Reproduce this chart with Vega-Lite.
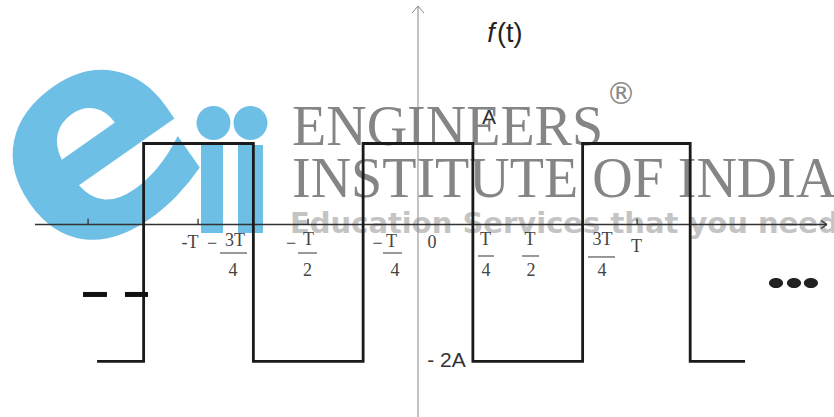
{
  "$schema": "https://vega.github.io/schema/vega-lite/v6.json",
  "width": 834,
  "height": 417,
  "autosize": {"type": "none"},
  "padding": 0,
  "background": "white",
  "config": {"view": {"stroke": null}},
  "datasets": {
    "logoE": [{"t": -1.476, "y": 0.944, "s": "e"}],
    "logoBars": [
      {"t": -0.9886, "t2": -0.8884, "y": 0.981, "y2": -0.105},
      {"t": -0.82, "t2": -0.7062, "y": 0.981, "y2": -0.105}
    ],
    "logoDots": [
      {"t": -0.9317, "y": 1.253},
      {"t": -0.7631, "y": 1.253}
    ],
    "brand": [
      {"t": -0.574, "y": 0.981, "s": "ENGINEERS"},
      {"t": -0.574, "y": 0.34, "s": "INSTITUTE OF INDIA"}
    ],
    "reg": [{"t": 0.9248, "y": 1.599, "s": "®"}],
    "tagline": [{"t": -0.583, "y": -0.105, "s": "Education Services that you need"}],
    "xaxis": [
      {"t": -1.745, "t2": 1.863, "y": 0, "y2": 0},
      {"t": 1.836, "t2": 1.863, "y": 0.05, "y2": 0},
      {"t": 1.836, "t2": 1.863, "y": -0.05, "y2": 0},
      {"t": -1.503, "t2": -1.503, "y": 0, "y2": 0.07},
      {"t": -1.002, "t2": -1.002, "y": 0, "y2": 0.07},
      {"t": -0.501, "t2": -0.501, "y": 0, "y2": 0.07},
      {"t": 0.998, "t2": 0.998, "y": 0, "y2": 0.07}
    ],
    "yaxis": [
      {"t": 0, "t2": 0, "y": -2.377, "y2": 2.698},
      {"t": -0.027, "t2": 0, "y": 2.611, "y2": 2.698},
      {"t": 0.027, "t2": 0, "y": 2.611, "y2": 2.698}
    ],
    "fracBars": [
      {"t": -0.902, "t2": -0.779, "y": -0.352},
      {"t": -0.5467, "t2": -0.4601, "y": -0.352},
      {"t": -0.1595, "t2": -0.0729, "y": -0.352},
      {"t": 0.2733, "t2": 0.3462, "y": -0.389},
      {"t": 0.4738, "t2": 0.5513, "y": -0.389},
      {"t": 0.7745, "t2": 0.8975, "y": -0.401}
    ],
    "tickLabels": [
      {"t": -1.039, "y": -0.228, "s": "-T"},
      {"t": -0.938, "y": -0.241, "s": "−"},
      {"t": -0.834, "y": -0.204, "s": "3T"},
      {"t": -0.843, "y": -0.574, "s": "4"},
      {"t": -0.5786, "y": -0.241, "s": "−"},
      {"t": -0.4989, "y": -0.191, "s": "T"},
      {"t": -0.5034, "y": -0.574, "s": "2"},
      {"t": -0.1845, "y": -0.241, "s": "−"},
      {"t": -0.1207, "y": -0.21, "s": "T"},
      {"t": -0.1048, "y": -0.574, "s": "4"},
      {"t": 0.0638, "y": -0.228, "s": "0"},
      {"t": 0.3075, "y": -0.191, "s": "T"},
      {"t": 0.3098, "y": -0.58, "s": "4"},
      {"t": 0.5103, "y": -0.191, "s": "T"},
      {"t": 0.5148, "y": -0.58, "s": "2"},
      {"t": 0.8405, "y": -0.191, "s": "3T"},
      {"t": 0.8383, "y": -0.58, "s": "4"},
      {"t": 0.9954, "y": -0.272, "s": "T"}
    ],
    "wave": [
      {"i": 0, "t": -1.462, "y": -1.69},
      {"i": 1, "t": -1.25, "y": -1.69},
      {"i": 2, "t": -1.25, "y": 1},
      {"i": 3, "t": -0.75, "y": 1},
      {"i": 4, "t": -0.75, "y": -1.69},
      {"i": 5, "t": -0.25, "y": -1.69},
      {"i": 6, "t": -0.25, "y": 1},
      {"i": 7, "t": 0.25, "y": 1},
      {"i": 8, "t": 0.25, "y": -1.69},
      {"i": 9, "t": 0.75, "y": -1.69},
      {"i": 10, "t": 0.75, "y": 1},
      {"i": 11, "t": 1.24, "y": 1},
      {"i": 12, "t": 1.24, "y": -1.69},
      {"i": 13, "t": 1.49, "y": -1.69}
    ],
    "fLabel": [{"t": 0.3326, "y": 2.358, "s": "f"}],
    "parenLabel": [{"t": 0.3599, "y": 2.358, "s": "(t)"}],
    "levelLabels": [
      {"t": 0.3235, "y": 1.315, "s": "A"},
      {"t": 0.1298, "y": -1.685, "s": "- 2A"}
    ],
    "dashes": [
      {"t": -1.526, "t2": -1.417, "y": -0.864},
      {"t": -1.335, "t2": -1.23, "y": -0.864}
    ],
    "ellipsis": [
      {"t": 1.631, "y": -0.722},
      {"t": 1.713, "y": -0.722},
      {"t": 1.79, "y": -0.722}
    ]
  },
  "encoding": {
    "x": {"field": "t", "type": "quantitative", "scale": {"domain": [-1.9043, 1.8952], "nice": false, "zero": false}, "axis": null},
    "y": {"field": "y", "type": "quantitative", "scale": {"domain": [-2.377, 2.772], "nice": false, "zero": false}, "axis": null}
  },
  "layer": [
    {
      "data": {"name": "logoE"},
      "mark": {"type": "text", "font": "DejaVu Sans", "fontWeight": "bold", "fontSize": 285, "angle": -35, "align": "center", "baseline": "middle", "color": "#6EBFE5"},
      "encoding": {"text": {"field": "s"}}
    },
    {
      "data": {"name": "logoBars"},
      "mark": {"type": "rect", "color": "#6EBFE5"},
      "encoding": {"x2": {"field": "t2"}, "y2": {"field": "y2"}}
    },
    {
      "data": {"name": "logoDots"},
      "mark": {"type": "point", "shape": "circle", "filled": true, "opacity": 1, "size": 1156, "color": "#6EBFE5"}
    },
    {
      "data": {"name": "brand"},
      "mark": {"type": "text", "font": "Liberation Serif", "fontSize": 56, "align": "left", "baseline": "alphabetic", "color": "#858585"},
      "encoding": {"text": {"field": "s"}}
    },
    {
      "data": {"name": "reg"},
      "mark": {"type": "text", "font": "DejaVu Sans", "fontSize": 30, "align": "center", "baseline": "middle", "color": "#8a8a8a"},
      "encoding": {"text": {"field": "s"}}
    },
    {
      "data": {"name": "tagline"},
      "mark": {"type": "text", "font": "DejaVu Sans", "fontWeight": "bold", "fontSize": 29, "align": "left", "baseline": "alphabetic", "color": "#c4c4c4"},
      "encoding": {"text": {"field": "s"}}
    },
    {
      "data": {"name": "yaxis"},
      "mark": {"type": "rule", "color": "#888888", "strokeWidth": 1},
      "encoding": {"x2": {"field": "t2"}, "y2": {"field": "y2"}}
    },
    {
      "data": {"name": "xaxis"},
      "mark": {"type": "rule", "color": "#333333", "strokeWidth": 1.3},
      "encoding": {"x2": {"field": "t2"}, "y2": {"field": "y2"}}
    },
    {
      "data": {"name": "fracBars"},
      "mark": {"type": "rule", "color": "#555555", "strokeWidth": 1.2},
      "encoding": {"x2": {"field": "t2"}}
    },
    {
      "data": {"name": "tickLabels"},
      "mark": {"type": "text", "font": "Liberation Serif", "fontSize": 18, "align": "center", "baseline": "middle", "color": "#444444"},
      "encoding": {"text": {"field": "s"}}
    },
    {
      "data": {"name": "wave"},
      "mark": {"type": "line", "color": "#1a1a1a", "strokeWidth": 2.8, "strokeJoin": "miter", "strokeCap": "butt"},
      "encoding": {"order": {"field": "i", "type": "quantitative"}}
    },
    {
      "data": {"name": "fLabel"},
      "mark": {"type": "text", "font": "Liberation Sans", "fontStyle": "italic", "fontSize": 27, "align": "center", "baseline": "middle", "color": "#222222"},
      "encoding": {"text": {"field": "s"}}
    },
    {
      "data": {"name": "parenLabel"},
      "mark": {"type": "text", "font": "Liberation Sans", "fontSize": 27, "align": "left", "baseline": "middle", "color": "#222222"},
      "encoding": {"text": {"field": "s"}}
    },
    {
      "data": {"name": "levelLabels"},
      "mark": {"type": "text", "font": "Liberation Sans", "fontSize": 21, "align": "center", "baseline": "middle", "color": "#333333"},
      "encoding": {"text": {"field": "s"}}
    },
    {
      "data": {"name": "dashes"},
      "mark": {"type": "rule", "color": "#111111", "strokeWidth": 5},
      "encoding": {"x2": {"field": "t2"}}
    },
    {
      "data": {"name": "ellipsis"},
      "mark": {"type": "point", "shape": "M-1,0A1,0.72 0 1,1 1,0A1,0.72 0 1,1 -1,0Z", "filled": true, "opacity": 1, "size": 200, "color": "#222222"}
    }
  ]
}
